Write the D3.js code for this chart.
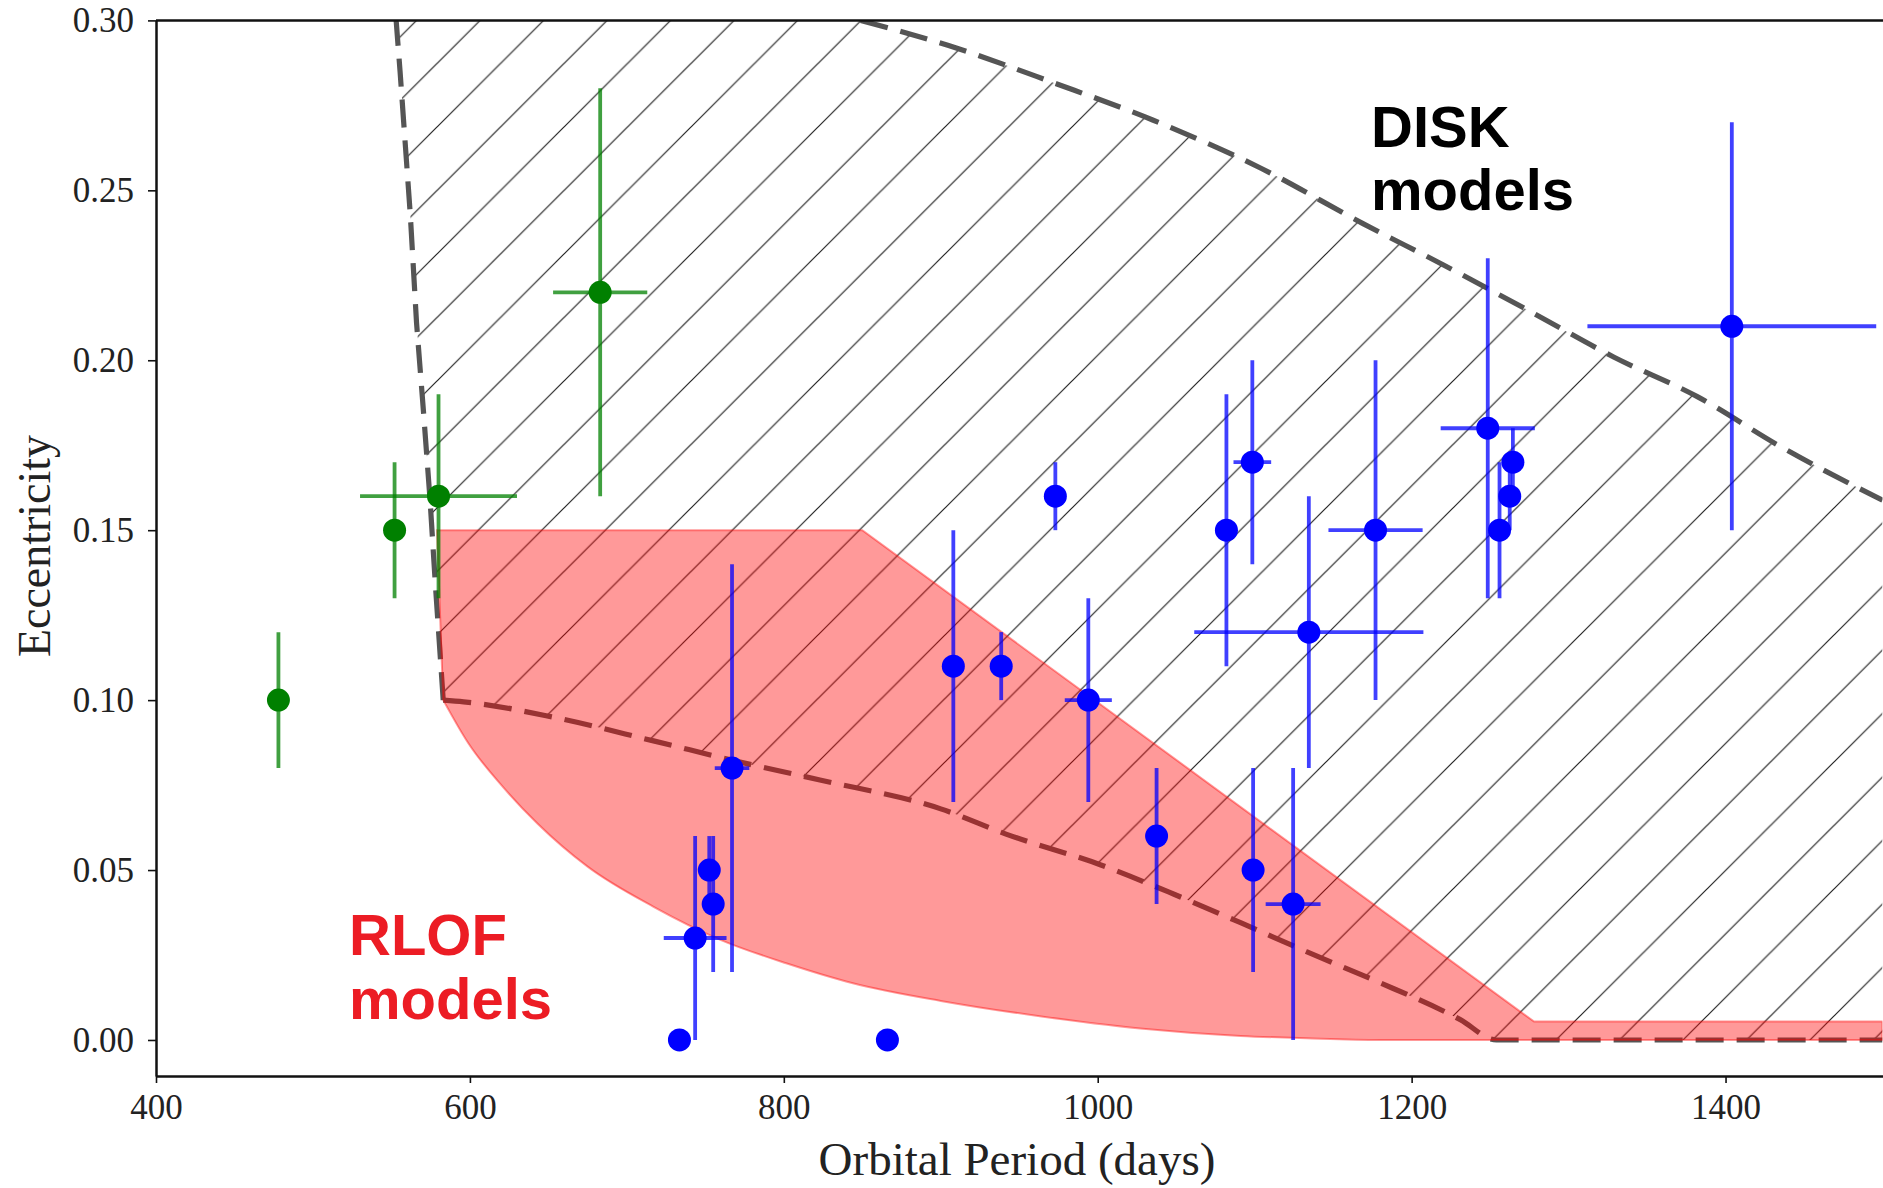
<!DOCTYPE html>
<html>
<head>
<meta charset="utf-8">
<title>Eccentricity vs Orbital Period</title>
<script src="https://cdnjs.cloudflare.com/ajax/libs/d3/7.8.5/d3.min.js"></script>
<style>
  body { margin: 0; background: #fff; }
</style>
</head>
<body>
<svg id="chart" width="1883" height="1188"></svg>
<script>
// observed systems, green group
var greenPeriod = [478, 552, 580, 683];
var greenEcc    = [0.10, 0.15, 0.16, 0.22];
var greenPerErr = [0, 0, 50, 30];
var greenEccErr = [0.02, 0.02, 0.03, 0.06];

// observed systems, blue group
var bluePeriod = [733.5, 743.5, 752.5, 755, 767, 866, 908, 938.5, 973, 994, 1037.5, 1082, 1098.5, 1099, 1124.5, 1134.5, 1177, 1248.5, 1256, 1262.5, 1264.5, 1404];
var blueEcc    = [0.00, 0.03, 0.05, 0.04, 0.08, 0.00, 0.11, 0.11, 0.16, 0.10, 0.06, 0.15, 0.17, 0.05, 0.04, 0.12, 0.15, 0.18, 0.15, 0.16, 0.17, 0.21];
var bluePerErr = [0, 20, 0, 0, 11, 0, 0, 0, 0, 15, 0, 5, 12, 0, 17.5, 73, 30, 30, 0, 0, 0, 92];
var blueEccErr = [0, 0.03, 0.01, 0.02, 0.06, 0, 0.04, 0.01, 0.01, 0.03, 0.02, 0.04, 0.03, 0.03, 0.04, 0.04, 0.05, 0.05, 0.02, 0.01, 0.01, 0.06];

// DISK model boundaries (dashed)
var diskLeftP  = [583, 578, 574.6, 570.4, 566, 562, 555.5, 553];
var diskLeftE  = [0.100, 0.134, 0.159, 0.185, 0.211, 0.243, 0.285, 0.300];
var diskUpperP = [849, 905, 974, 1035, 1104, 1169, 1220, 1275, 1329, 1382, 1435, 1500];
var diskUpperE = [0.300, 0.2926, 0.2813, 0.2707, 0.2565, 0.2402, 0.2281, 0.2145, 0.2009, 0.1893, 0.1746, 0.1588];
var diskLowerP = [583, 596, 653, 717, 770, 823, 900, 942, 1002, 1049, 1091, 1133, 1176, 1231, 1254, 1500];
var diskLowerE = [0.100, 0.0995, 0.095, 0.088, 0.082, 0.0765, 0.068, 0.0605, 0.0515, 0.0428, 0.0345, 0.026, 0.0176, 0.006, 0.000, 0.000];

// RLOF model region (red)
var rlofTopP    = [579, 850, 1278, 1500];
var rlofTopE    = [0.15, 0.15, 0.0054, 0.0054];
var rlofBottomP = [583, 599, 621, 643, 675, 717, 760, 802, 844, 900, 963, 1027, 1091, 1133, 1180, 1500];
var rlofBottomE = [0.100, 0.0873, 0.0745, 0.0637, 0.051, 0.0392, 0.0294, 0.0225, 0.0167, 0.0115, 0.007, 0.0034, 0.0012, 0.0005, 0, 0];

var xTicks = [400, 600, 800, 1000, 1200, 1400];
var yTicks = [0.00, 0.05, 0.10, 0.15, 0.20, 0.25, 0.30];

var plotLeft = 156, plotRight = 1882.5, plotTop = 20.4, plotBottom = 1076;
var serif = "'Liberation Serif', 'DejaVu Serif', serif";
var sans = "'Liberation Sans', Arial, sans-serif";

var svg = d3.select('#chart');
var x = d3.scaleLinear().domain([400, 1500]).range([plotLeft, plotRight]);
var y = d3.scaleLinear().domain([-0.0106, 0.30]).range([plotBottom, plotTop]);

function pts(ps, es) { return ps.map(function(p, i) { return [p, es[i]]; }); }
var line = d3.line().x(function(d) { return x(d[0]); }).y(function(d) { return y(d[1]); });
var smooth = d3.line().x(function(d) { return x(d[0]); }).y(function(d) { return y(d[1]); })
  .curve(d3.curveMonotoneX);

var defs = svg.append('defs');
defs.append('clipPath').attr('id', 'plotclip')
  .append('rect').attr('x', plotLeft).attr('y', plotTop)
  .attr('width', plotRight - plotLeft).attr('height', plotBottom - plotTop);

var hs = 63.5;
var pat = defs.append('pattern').attr('id', 'hatch')
  .attr('patternUnits', 'userSpaceOnUse')
  .attr('width', hs).attr('height', hs).attr('x', 56).attr('y', 0);
pat.append('path')
  .attr('d', 'M-8,8 L8,-8 M0,' + hs + ' L' + hs + ',0 M' + (hs - 8) + ',' + (hs + 8) + ' L' + (hs + 8) + ',' + (hs - 8))
  .attr('stroke', '#222').attr('stroke-width', 1.2).attr('fill', 'none');

var g = svg.append('g').attr('clip-path', 'url(#plotclip)');

// hatched DISK region
var leftPts = pts(diskLeftP, diskLeftE);
var upperPts = pts(diskUpperP, diskUpperE);
var lowerPts = pts(diskLowerP, diskLowerE);
var diskPath = line(leftPts)
  + smooth(upperPts).replace(/^M/, 'L')
  + smooth(lowerPts.slice().reverse()).replace(/^M/, 'L') + 'Z';
g.append('path').attr('d', diskPath)
  .attr('fill', 'url(#hatch)').attr('stroke', 'none');

// dashed boundaries
[line(leftPts), smooth(upperPts), smooth(lowerPts)].forEach(function(d) {
  g.append('path').attr('d', d)
    .attr('fill', 'none').attr('stroke', '#555').attr('stroke-width', 5.2)
    .attr('stroke-dasharray', '28,13');
});

// red RLOF region
var rlofPath = line(pts(rlofTopP, rlofTopE))
  + smooth(pts(rlofBottomP, rlofBottomE).reverse()).replace(/^M/, 'L') + 'Z';
g.append('path').attr('d', rlofPath)
  .attr('fill', 'rgba(255,0,0,0.4)')
  .attr('stroke', 'rgba(255,0,0,0.4)').attr('stroke-width', 2);

function drawSeries(per, ecc, perErr, eccErr, col) {
  var data = per.map(function(p, i) { return {p: p, e: ecc[i], pe: perErr[i], ee: eccErr[i]}; });
  g.selectAll(null).data(data.filter(function(d) { return d.ee > 0; }))
    .enter().append('line')
    .attr('x1', function(d) { return x(d.p); }).attr('x2', function(d) { return x(d.p); })
    .attr('y1', function(d) { return y(d.e - d.ee); }).attr('y2', function(d) { return y(d.e + d.ee); })
    .attr('stroke', col).attr('stroke-opacity', 0.75).attr('stroke-width', 3.8);
  g.selectAll(null).data(data.filter(function(d) { return d.pe > 0; }))
    .enter().append('line')
    .attr('x1', function(d) { return x(d.p - d.pe); }).attr('x2', function(d) { return x(d.p + d.pe); })
    .attr('y1', function(d) { return y(d.e); }).attr('y2', function(d) { return y(d.e); })
    .attr('stroke', col).attr('stroke-opacity', 0.75).attr('stroke-width', 3.8);
  g.selectAll(null).data(data)
    .enter().append('circle')
    .attr('cx', function(d) { return x(d.p); }).attr('cy', function(d) { return y(d.e); })
    .attr('r', 11.5).attr('fill', col);
}
drawSeries(greenPeriod, greenEcc, greenPerErr, greenEccErr, '#008000');
drawSeries(bluePeriod, blueEcc, bluePerErr, blueEccErr, '#0000ff');

// annotations
var disk = svg.append('text').attr('font-family', sans).attr('font-weight', 'bold')
  .attr('font-size', 58).attr('fill', '#000');
disk.append('tspan').attr('x', 1371).attr('y', 147).text('DISK');
disk.append('tspan').attr('x', 1371).attr('y', 210).text('models');

var rlof = svg.append('text').attr('font-family', sans).attr('font-weight', 'bold')
  .attr('font-size', 58).attr('fill', '#ec1c24');
rlof.append('tspan').attr('x', 349).attr('y', 955).text('RLOF');
rlof.append('tspan').attr('x', 349).attr('y', 1019).text('models');

// axes
var xAxis = svg.append('g').attr('transform', 'translate(0,' + plotBottom + ')')
  .call(d3.axisBottom(x).tickValues(xTicks).tickSize(7).tickSizeOuter(0).tickPadding(11)
    .tickFormat(d3.format('d')));
var yAxis = svg.append('g').attr('transform', 'translate(' + plotLeft + ',0)')
  .call(d3.axisLeft(y).tickValues(yTicks).tickSize(8).tickSizeOuter(0).tickPadding(14)
    .tickFormat(d3.format('.2f')));
[xAxis, yAxis].forEach(function(a) {
  a.select('.domain').attr('stroke', '#111').attr('stroke-width', 2.5);
  a.selectAll('.tick line').attr('stroke', '#111').attr('stroke-width', 1.6);
  a.selectAll('.tick text').attr('font-family', serif).attr('font-size', 35).attr('fill', '#222');
});

// top spine
svg.append('line').attr('x1', plotLeft).attr('x2', 1883)
  .attr('y1', plotTop).attr('y2', plotTop)
  .attr('stroke', '#111').attr('stroke-width', 2.5);

svg.append('text').text('Orbital Period (days)')
  .attr('x', 1017).attr('y', 1175).attr('text-anchor', 'middle')
  .attr('font-family', serif).attr('font-size', 47).attr('fill', '#222');

svg.append('text').text('Eccentricity')
  .attr('transform', 'translate(50,546) rotate(-90)').attr('text-anchor', 'middle')
  .attr('font-family', serif).attr('font-size', 46).attr('fill', '#222');
</script>
</body>
</html>
